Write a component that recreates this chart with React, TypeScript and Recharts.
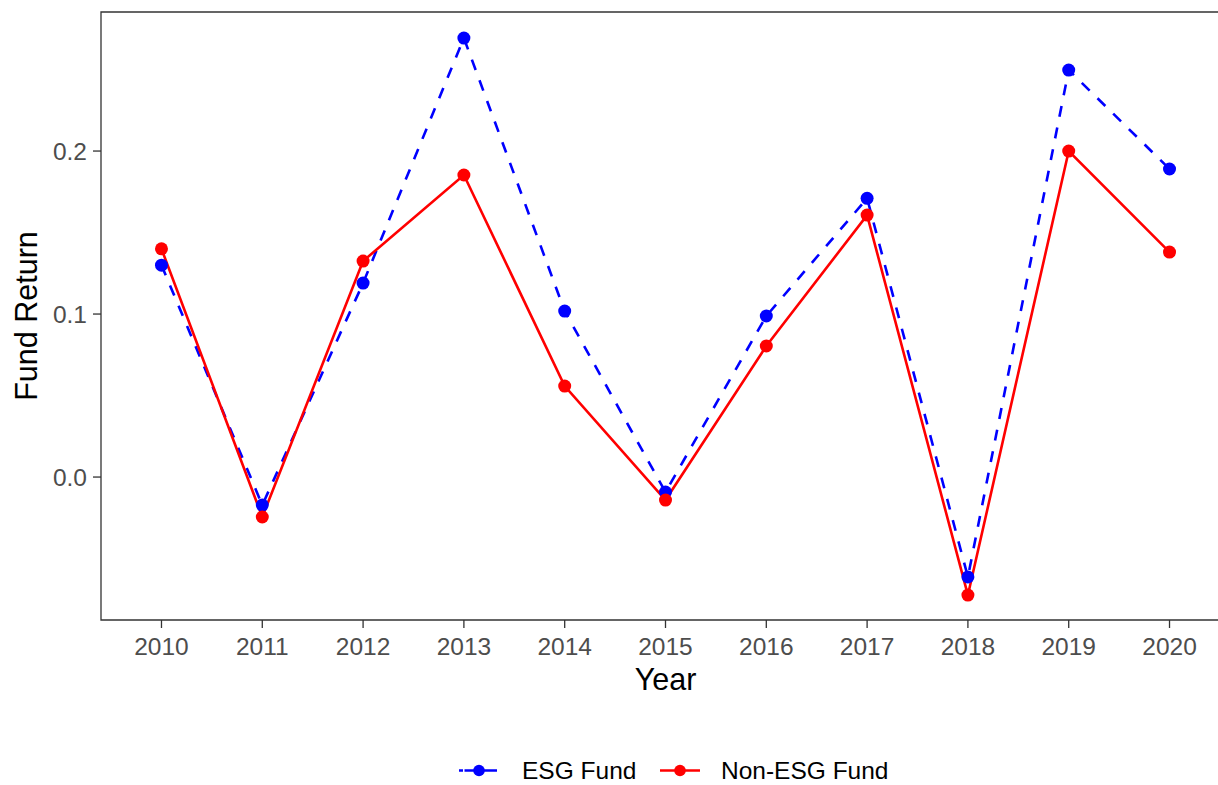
import React from "react";
import { LineChart, Line, XAxis, YAxis, ReferenceArea, Label } from "recharts";

const years = [2010, 2011, 2012, 2013, 2014, 2015, 2016, 2017, 2018, 2019, 2020];
const esgReturns = [0.130, -0.0172, 0.119, 0.2693, 0.1018, -0.0092, 0.0988, 0.171, -0.0613, 0.2497, 0.189];
const nonEsgReturns = [0.140, -0.0245, 0.1325, 0.1853, 0.0558, -0.0141, 0.0804, 0.1607, -0.0724, 0.200, 0.138];
const yTicks = [0.0, 0.1, 0.2];
const seriesNames = ["ESG Fund", "Non-ESG Fund"];

const data = years.map((y, i) => ({ year: y, esg: esgReturns[i], nonEsg: nonEsgReturns[i] }));

const FONT = "'Liberation Sans', Arial, Helvetica, sans-serif";
const X_DOMAIN: [number, number] = [2009.4, 2020.6];
const Y_DOMAIN: [number, number] = [-0.0877, 0.2853];
const BLUE = "#0000ff";
const RED = "#ff0000";

export default function App() {
  return (
    <div style={{ position: "absolute", left: 0, top: 0, width: 1218, height: 785, overflow: "hidden", background: "#fff", fontFamily: FONT }}>
      <LineChart width={1240} height={785} data={data} margin={{ top: 12, right: 10, left: 0, bottom: 85 }}>
        <XAxis
          dataKey="year"
          type="number"
          domain={X_DOMAIN}
          allowDataOverflow
          ticks={years}
          height={80}
          tickSize={8}
          tickMargin={10}
          axisLine={false}
          tickLine={{ stroke: "#333333", strokeWidth: 1.3 }}
          tick={{ fill: "#4d4d4d", fontSize: 24.5, fontFamily: FONT }}
        >
          <Label
            content={(props: any) => {
              const vb = props.viewBox || {};
              return (
                <text x={vb.x + vb.width / 2} y={vb.y + 69.5} textAnchor="middle" fontSize={30.5} fill="#000" fontFamily={FONT}>
                  Year
                </text>
              );
            }}
          />
        </XAxis>
        <YAxis
          type="number"
          domain={Y_DOMAIN}
          allowDataOverflow
          ticks={yTicks}
          width={101}
          tickSize={8}
          tickMargin={6}
          axisLine={false}
          tickLine={{ stroke: "#333333", strokeWidth: 1.3 }}
          tick={{ fill: "#4d4d4d", fontSize: 24.5, fontFamily: FONT }}
          tickFormatter={(v: number) => v.toFixed(1)}
        >
          <Label
            content={(props: any) => {
              const vb = props.viewBox || {};
              const cy = vb.y + vb.height / 2;
              return (
                <text x={37} y={cy} transform={`rotate(-90, 37, ${cy})`} textAnchor="middle" fontSize={30.5} fill="#000" fontFamily={FONT}>
                  Fund Return
                </text>
              );
            }}
          />
        </YAxis>
        <ReferenceArea
          x1={X_DOMAIN[0]}
          x2={X_DOMAIN[1]}
          y1={Y_DOMAIN[0]}
          y2={Y_DOMAIN[1]}
          fill="none"
          fillOpacity={0}
          stroke="#333333"
          strokeWidth={1.3}
          ifOverflow="visible"
        />
        <Line dataKey="esg" stroke="none" strokeWidth={0} isAnimationActive={false} dot={{ r: 6.5, fill: BLUE, stroke: "none" }} activeDot={false} legendType="none" />
        <Line dataKey="nonEsg" stroke="none" strokeWidth={0} isAnimationActive={false} dot={{ r: 6.5, fill: RED, stroke: "none" }} activeDot={false} legendType="none" />
        <Line dataKey="esg" name={seriesNames[0]} type="linear" stroke={BLUE} strokeWidth={2.6} strokeDasharray="11 11" dot={false} activeDot={false} isAnimationActive={false} />
        <Line dataKey="nonEsg" name={seriesNames[1]} type="linear" stroke={RED} strokeWidth={2.6} dot={false} activeDot={false} isAnimationActive={false} />
      </LineChart>
      <svg width={1218} height={40} style={{ position: "absolute", left: 0, top: 751 }}>
        <g>
          <line x1={459} x2={497} y1={19.5} y2={19.5} stroke={BLUE} strokeWidth={2.6} strokeDasharray="4 1.5 40" />
          <circle cx={479} cy={19.5} r={5.8} fill={BLUE} />
          <text x={522} y={28} fontSize={24.5} fill="#000" fontFamily={FONT}>{seriesNames[0]}</text>
        </g>
        <g>
          <line x1={660} x2={700} y1={19.5} y2={19.5} stroke={RED} strokeWidth={2.6} />
          <circle cx={680} cy={19.5} r={5.8} fill={RED} />
          <text x={721} y={28} fontSize={24.5} fill="#000" fontFamily={FONT}>{seriesNames[1]}</text>
        </g>
      </svg>
    </div>
  );
}
